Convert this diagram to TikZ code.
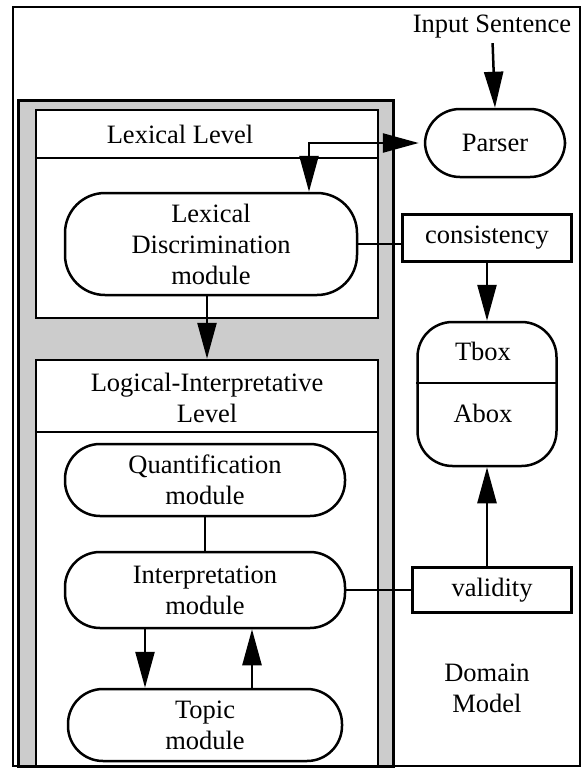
\documentclass[tikz,border=0pt]{standalone}
\usepackage{fontspec}
\setmainfont{Liberation Serif}
\usetikzlibrary{arrows.meta}

\begin{document}
\begin{tikzpicture}[x=1pt, y=-1pt, >={Triangle[length=36pt,width=19pt]},
    line width=2.5pt, font=\fontsize{26.5}{31}\selectfont,
    module/.style={draw, rounded corners=35pt, align=center, inner sep=0pt,
        minimum width=280pt, minimum height=72pt},
    plainbox/.style={draw, inner sep=0pt, minimum height=47pt},
    levelbox/.style={draw, fill=white, inner sep=0pt, minimum width=342pt}]
    \useasboundingbox (0,0) rectangle (584,769);
    \draw (13,7) rectangle (580,766);
    % shaded frame round the two levels
    \draw[line width=3pt, fill=black!20] (18,100) rectangle (393,766);
    \node[levelbox, minimum height=208pt] (lexbox) at (207,214) {};
    \draw (lexbox.west |- 0,158) -- (lexbox.east |- 0,158);
    \node (lexlabel) at (180,134) {Lexical Level};
    \node[levelbox, minimum height=406pt] (logbox) at (207,563) {};
    \draw (logbox.west |- 0,432) -- (logbox.east |- 0,432);
    \node[align=center] (loglabel) at (207,398) {Logical-Interpretative\\Level};
    \node[module, rounded corners=40pt, minimum width=292pt, minimum height=102pt]
        (lexdisc) at (211,244) {Lexical\\Discrimination\\module};
    \node[module] (quant) at (205,480) {Quantification\\module};
    \node[module, minimum height=76pt] (interp) at (205,590) {Interpretation\\module};
    \node[module, minimum width=274pt] (topic) at (205,725) {Topic\\module};
    % domain model side
    \node (input) at (492,27) {Input Sentence};
    \node[module, minimum width=140pt, minimum height=68pt] (parser) at (495,143) {Parser};
    \node[plainbox, minimum width=169pt] (consist) at (487,238) {consistency};
    \node[module, minimum width=139pt, minimum height=144pt] (kb) at (487,394) {};
    \coordinate (divider) at (0,383);
    \draw (kb.west |- divider) -- (kb.east |- divider);
    \node (tbox) at (483,351) {Tbox};
    \node (abox) at (483,413) {Abox};
    \node[plainbox, minimum width=159pt, minimum height=45pt] (valid) at (492,590) {validity};
    \node[align=center] (domain) at (487,688) {Domain\\Model};
    % connectors
    \coordinate (topicin) at ([xshift=-60pt]interp.south);
    \coordinate (topicout) at ([xshift=47pt]topic.north);
    \draw[->] (input) -- (parser.north);
    \draw[<->, shorten <=5pt] (parser.west) -| ([xshift=98pt]lexdisc.north);
    \draw (lexdisc.east) -- (lexdisc.east -| consist.west);
    \draw[->] (consist.south) -- (kb.north);
    \draw[->] (kb.south |- valid.north) -- (kb.south);
    \draw (interp.east) -- (valid.west);
    \draw[->] (lexdisc.south -| logbox.north) -- (logbox.north);
    \draw (quant.south) -- (interp.north);
    \draw[->] (topicin) -- (topicin |- topic.north);
    \draw[->] (topicout) -- (topicout |- interp.south);
\end{tikzpicture}
\end{document}
